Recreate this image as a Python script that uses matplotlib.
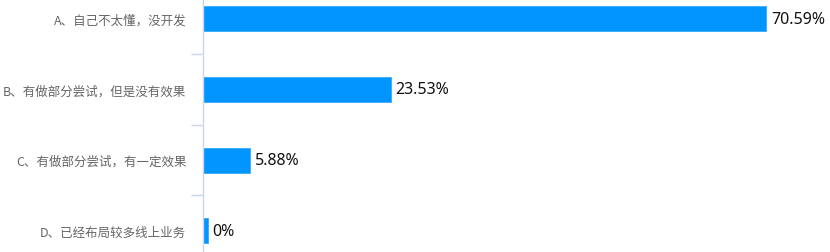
import numpy as np
import matplotlib.pyplot as plt
import matplotlib as mpl

mpl.rcParams['font.family'] = ['Noto Sans CJK SC', 'DejaVu Sans']

categories = ['A、自己不太懂，没开发',
              'B、有做部分尝试，但是没有效果',
              'C、有做部分尝试，有一定效果',
              'D、已经布局较多线上业务']
values = [70.59, 23.53, 5.88, 0]
value_labels = ['70.59%', '23.53%', '5.88%', '0%']

bar_color = '#0095FF'
axis_color = '#CCD6EB'
min_len = 0.6  # smallest visible bar, like the original

fig = plt.figure(figsize=(8.3, 2.53), dpi=100)
ax = fig.add_axes([203 / 830, -14 / 253, 638 / 830, 282.5 / 253])

y = np.arange(len(categories))
widths = [max(v, min_len) for v in values]
ax.barh(y, widths, height=0.355, color=bar_color, edgecolor='#33aaff', linewidth=0.6)

for yi, w, lab in zip(y, widths, value_labels):
    ax.annotate(lab, (w, yi), xytext=(3.5, 0), textcoords='offset points',
                va='center', ha='left', fontsize=11.5, color='#111111',
                family=['Noto Sans', 'DejaVu Sans'])

ax.set_xlim(0, 80)
ax.set_ylim(len(categories) - 0.5, -0.5)

ax.set_yticks(y)
ax.set_yticklabels(categories, fontsize=9, color='#666666')
ax.tick_params(axis='y', which='major', length=0, pad=12)
ax.set_yticks(np.arange(-0.5, len(categories)), minor=True)
ax.tick_params(axis='y', which='minor', length=9, color=axis_color, width=1)

ax.set_xticks([])
for s in ['top', 'right', 'bottom']:
    ax.spines[s].set_visible(False)
ax.spines['left'].set_color(axis_color)
ax.spines['left'].set_linewidth(1)

fig.savefig('out.png', dpi=100)
